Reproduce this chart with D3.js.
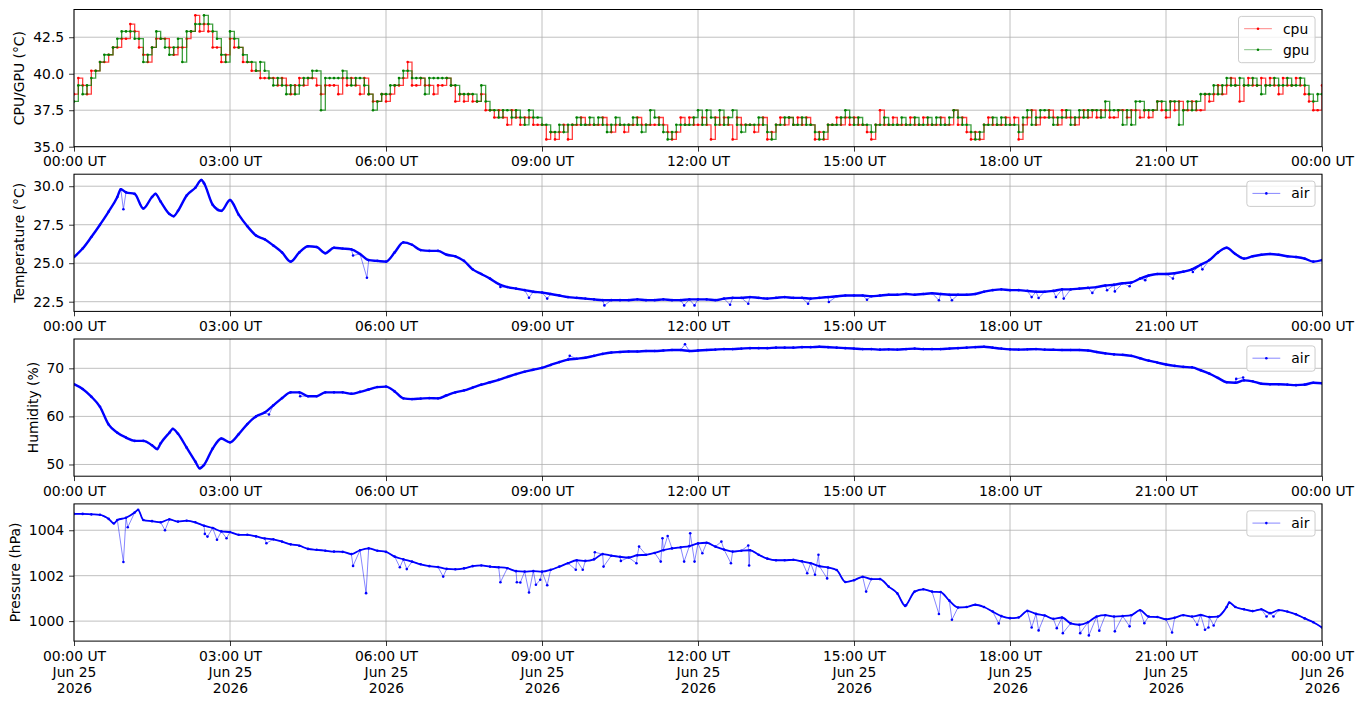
<!DOCTYPE html>
<html>
<head>
<meta charset="utf-8">
<script src="https://cdn.jsdelivr.net/npm/d3@7"></script>
<style>
  body { margin: 0; background: #fff; }
  svg { font-family: "DejaVu Sans", sans-serif; }
</style>
</head>
<body>
<svg id="chart" width="1363" height="707"></svg>
<script>
// one day of readings, 25 Jun 2026 UTC
// cpu / gpu: one reading every 5 minutes, one row per hour
const cpuTemp = [
  38.6, 39.7, 39.2, 38.6, 40.2, 40.2, 40.8, 40.8, 41.3, 41.8, 41.8, 42.4,
  42.4, 43.4, 42.9, 41.8, 41.3, 40.8, 41.8, 42.4, 42.4, 42.4, 41.8, 41.3,
  41.8, 41.8, 42.4, 42.9, 44.0, 42.9, 43.4, 42.9, 41.8, 41.8, 40.8, 41.3,
  42.4, 41.8, 41.8, 40.8, 40.8, 40.2, 40.2, 39.7, 39.7, 39.7, 39.7, 39.2,
  39.7, 39.2, 38.6, 39.2, 39.7, 39.2, 39.7, 39.7, 39.2, 38.6, 39.2, 39.2,
  39.2, 38.6, 39.7, 39.2, 39.7, 39.2, 38.6, 39.7, 38.6, 38.1, 38.1, 38.6,
  38.1, 38.6, 39.2, 39.2, 39.7, 40.8, 39.2, 39.2, 39.7, 39.2, 39.2, 38.6,
  39.2, 39.2, 39.7, 39.2, 38.1, 38.6, 38.1, 38.6, 38.1, 38.1, 38.6, 37.5,
  37.5, 37.0, 37.5, 37.0, 36.5, 37.5, 37.0, 36.5, 37.0, 37.0, 36.5, 36.5,
  36.5, 35.5, 36.0, 35.5, 36.0, 36.5, 35.5, 36.5, 36.5, 37.0, 36.5, 36.5,
  36.5, 36.5, 37.0, 36.5, 36.0, 36.5, 36.5, 36.0, 36.5, 36.5, 37.0, 36.5,
  36.5, 36.5, 36.5, 37.0, 36.5, 36.0, 35.5, 36.0, 37.0, 36.5, 37.0, 36.5,
  36.5, 37.0, 36.5, 35.5, 37.0, 36.5, 37.0, 36.5, 35.5, 37.0, 36.5, 36.5,
  36.5, 36.0, 36.5, 37.0, 35.5, 36.0, 36.5, 37.0, 36.5, 37.0, 36.5, 37.0,
  36.5, 37.0, 36.5, 35.5, 36.0, 35.5, 36.5, 36.5, 37.0, 36.5, 37.0, 36.5,
  37.0, 36.5, 36.5, 36.0, 35.5, 36.5, 37.5, 36.5, 36.5, 37.0, 36.5, 36.5,
  36.5, 37.0, 36.5, 36.5, 37.0, 36.5, 36.5, 36.5, 37.0, 36.5, 36.5, 37.5,
  36.5, 37.0, 36.0, 35.5, 36.0, 35.5, 36.5, 37.0, 36.5, 36.5, 36.5, 37.0,
  36.5, 37.0, 35.5, 36.5, 37.0, 37.5, 36.5, 37.0, 37.0, 37.5, 37.0, 36.5,
  37.5, 37.0, 37.0, 36.5, 37.0, 37.5, 37.0, 37.5, 37.0, 37.5, 37.5, 37.0,
  37.0, 37.5, 37.5, 37.0, 37.5, 37.5, 37.0, 37.5, 37.0, 37.5, 38.1, 37.5,
  37.0, 38.1, 37.5, 38.1, 37.5, 37.5, 38.1, 37.5, 37.5, 38.6, 38.1, 38.6,
  39.2, 38.6, 39.2, 39.7, 39.2, 38.1, 39.2, 39.7, 39.2, 39.2, 39.7, 39.2,
  39.7, 39.2, 38.6, 39.7, 39.2, 39.2, 39.7, 39.2, 38.6, 38.1, 37.5, 37.5,
  39.2
];
const gpuTemp = [
  38.1, 39.2, 38.6, 39.2, 39.7, 40.2, 40.8, 41.3, 41.3, 41.8, 42.4, 42.9,
  42.9, 42.9, 42.4, 42.4, 40.8, 41.3, 41.8, 42.9, 42.4, 41.8, 41.3, 41.8,
  42.4, 40.8, 42.9, 42.9, 43.4, 43.4, 44.0, 43.4, 42.9, 42.4, 41.3, 40.8,
  42.9, 42.4, 41.8, 41.3, 40.8, 40.8, 40.2, 40.8, 40.2, 39.7, 39.2, 39.7,
  39.2, 38.6, 39.2, 38.6, 39.2, 39.7, 39.7, 40.2, 40.2, 37.5, 39.7, 39.7,
  39.7, 39.7, 40.2, 39.7, 39.2, 39.7, 39.7, 39.2, 38.6, 37.5, 38.1, 38.6,
  38.6, 39.2, 39.2, 39.7, 40.2, 40.2, 39.7, 39.7, 39.7, 38.6, 39.7, 39.7,
  39.7, 39.7, 39.7, 39.2, 39.2, 38.6, 38.6, 38.6, 38.6, 38.1, 39.2, 38.1,
  37.5, 37.5, 37.0, 37.5, 37.5, 37.0, 37.5, 37.0, 36.5, 37.5, 37.0, 37.0,
  36.5, 36.5, 36.0, 36.0, 36.5, 36.0, 36.5, 36.5, 37.0, 36.5, 36.5, 37.0,
  36.5, 37.0, 36.5, 36.0, 36.5, 37.0, 36.5, 36.5, 36.5, 37.0, 36.5, 36.0,
  36.5, 37.5, 37.0, 36.5, 36.0, 35.5, 36.0, 36.5, 36.5, 36.5, 36.5, 37.0,
  37.5, 36.5, 37.5, 37.0, 36.5, 37.5, 36.5, 37.0, 37.5, 36.5, 36.0, 36.5,
  36.5, 36.5, 37.0, 36.5, 36.0, 35.5, 36.5, 36.5, 37.0, 37.0, 36.5, 36.5,
  37.0, 36.5, 36.5, 36.0, 35.5, 36.0, 36.5, 36.5, 36.5, 37.0, 37.5, 37.0,
  36.5, 37.0, 36.5, 36.5, 36.0, 36.5, 36.5, 37.0, 36.5, 36.5, 36.5, 37.0,
  36.5, 36.5, 37.0, 36.5, 36.5, 37.0, 36.5, 37.0, 36.5, 36.5, 37.0, 37.5,
  37.0, 36.5, 36.5, 36.0, 35.5, 36.0, 36.5, 36.5, 37.0, 36.5, 37.0, 36.5,
  36.5, 36.5, 36.0, 37.0, 37.5, 36.5, 37.0, 37.5, 37.5, 37.0, 36.5, 37.0,
  37.0, 37.5, 36.5, 37.0, 37.5, 37.0, 37.5, 37.5, 37.5, 37.0, 38.1, 37.5,
  37.5, 37.5, 36.5, 37.5, 36.5, 38.1, 38.1, 37.5, 37.5, 37.5, 38.1, 38.1,
  37.5, 38.1, 38.1, 36.5, 37.5, 38.1, 37.5, 38.1, 38.6, 38.6, 38.6, 39.2,
  38.6, 39.2, 39.7, 39.2, 39.2, 39.7, 39.2, 39.2, 39.7, 39.2, 38.6, 39.2,
  39.2, 39.7, 39.2, 39.2, 39.7, 39.2, 39.2, 39.7, 39.2, 38.6, 38.1, 38.6,
  38.6
];

// air sensor: one reading every 10 minutes, one row per hour
const airTemp = [
  25.4, 25.95, 26.7, 27.5, 28.35, 29.3,
  29.6, 29.5, 28.55, 29.3, 29.0, 28.2,
  28.4, 29.4, 29.9, 30.2, 28.8, 28.4,
  29.1, 28.15, 27.4, 26.8, 26.55, 26.15,
  25.7, 25.1, 25.7, 26.1, 26.05, 25.65,
  26.0, 25.95, 25.9, 25.6, 25.2, 25.15,
  25.1, 25.7, 26.35, 26.2, 25.85, 25.8,
  25.8, 25.55, 25.45, 25.15, 24.6, 24.3,
  24.0, 23.65, 23.45, 23.35, 23.25, 23.15,
  23.1, 23.0, 22.9, 22.8, 22.75, 22.7,
  22.65, 22.6, 22.6, 22.6, 22.6, 22.65,
  22.6, 22.6, 22.65, 22.6, 22.6, 22.65,
  22.65, 22.65, 22.6, 22.7, 22.75, 22.75,
  22.8, 22.75, 22.7, 22.75, 22.8, 22.75,
  22.75, 22.7, 22.75, 22.8, 22.85, 22.9,
  22.9, 22.9, 22.85, 22.9, 22.95, 22.95,
  23.0, 22.95, 23.0, 23.05, 23.0, 22.95,
  22.95, 22.95, 23.0, 23.15, 23.25, 23.3,
  23.25, 23.25, 23.2, 23.15, 23.15, 23.2,
  23.3, 23.3, 23.35, 23.4, 23.45, 23.55,
  23.6, 23.7, 23.75, 24.0, 24.2, 24.3,
  24.3, 24.35, 24.45, 24.6, 24.9, 25.2,
  25.7, 26.0, 25.6, 25.3, 25.45, 25.55,
  25.6, 25.55, 25.45, 25.4, 25.3, 25.1,
  25.2
];
const airHum = [
  66.7, 65.7, 64.1, 62.0, 58.3, 56.6,
  55.6, 54.9, 54.9, 54.0, 54.4, 56.6,
  56.4, 53.5, 50.6, 49.9, 53.3, 55.4,
  54.6, 56.3, 58.4, 60.0, 60.8, 62.3,
  63.8, 65.0, 65.0, 64.2, 64.2, 65.0,
  65.0, 65.0, 64.7, 65.1, 65.6, 66.1,
  66.2, 65.2, 63.75, 63.6, 63.7, 63.8,
  63.75, 64.4, 65.0, 65.4, 66.0, 66.6,
  67.1, 67.6, 68.2, 68.8, 69.3, 69.7,
  70.1, 70.7, 71.3, 71.8, 72.0, 72.2,
  72.6, 73.0, 73.3, 73.4, 73.5, 73.5,
  73.6, 73.6, 73.7, 73.8, 73.8, 73.6,
  73.7, 73.8, 73.9, 74.0, 74.0, 74.1,
  74.2, 74.2, 74.2, 74.3, 74.3, 74.3,
  74.4, 74.4, 74.5, 74.4, 74.3, 74.2,
  74.1, 74.0, 74.0, 73.9, 73.95, 73.9,
  74.0, 74.1, 74.0, 74.0, 74.0, 74.1,
  74.2, 74.3, 74.4, 74.5, 74.3, 74.1,
  73.95, 73.9, 73.95, 74.0, 73.9, 73.85,
  73.8, 73.8, 73.8, 73.7, 73.4, 73.1,
  72.9, 72.8, 72.6, 72.1, 71.6, 71.2,
  70.8, 70.5, 70.3, 70.2, 69.6, 68.9,
  68.0, 67.1, 67.0, 67.5, 67.3, 66.8,
  66.7, 66.7, 66.6, 66.5, 66.6, 67.0,
  66.9
];
const airPres = [
  1004.72, 1004.72, 1004.7, 1004.68, 1004.5, 1004.45,
  1004.55, 1004.78, 1004.45, 1004.4, 1004.35, 1004.48,
  1004.38, 1004.42, 1004.35, 1004.2, 1004.1, 1003.95,
  1003.92, 1003.8, 1003.8, 1003.73, 1003.64, 1003.6,
  1003.5, 1003.38, 1003.32, 1003.18, 1003.14, 1003.1,
  1003.06, 1003.05, 1002.95, 1003.12, 1003.2, 1003.1,
  1003.05, 1002.84, 1002.72, 1002.62, 1002.5, 1002.42,
  1002.38, 1002.3, 1002.28, 1002.32, 1002.42, 1002.45,
  1002.4, 1002.37, 1002.33, 1002.2, 1002.18, 1002.2,
  1002.18, 1002.26, 1002.4, 1002.55, 1002.68, 1002.65,
  1002.72, 1002.95, 1002.88, 1002.83, 1002.8, 1002.9,
  1002.92, 1003.0, 1003.12, 1003.2, 1003.25, 1003.3,
  1003.42, 1003.45, 1003.28, 1003.15, 1003.06, 1003.1,
  1003.12, 1002.92, 1002.75, 1002.68, 1002.68, 1002.7,
  1002.63, 1002.55, 1002.42, 1002.36, 1002.25, 1001.72,
  1001.8, 1001.95, 1001.85, 1001.85, 1001.52, 1001.22,
  1000.7, 1001.3, 1001.4, 1001.3, 1001.28, 1000.9,
  1000.6, 1000.62, 1000.72, 1000.62, 1000.42, 1000.22,
  1000.13, 1000.16, 1000.45, 1000.32, 1000.25, 1000.1,
  1000.16, 999.9, 999.84, 999.95, 1000.2, 1000.26,
  1000.2, 1000.22, 1000.26, 1000.48, 1000.2, 1000.18,
  1000.08, 1000.15, 1000.26, 1000.2, 1000.27, 1000.18,
  1000.2, 1000.62, 1000.62, 1000.52, 1000.44, 1000.52,
  1000.35, 1000.48, 1000.42, 1000.3, 1000.12, 999.95,
  999.72
];

// readings between the 10 minute steps: [minute of day, value]
// peaks are on the curve, spikes are single odd readings
const tempPeaks = [[54, 29.8], [94, 29.5], [115, 28.05], [147, 30.4]];
const tempSpikes = [
  [57, 28.5], [322, 25.5], [338, 24.06], [492, 23.45], [525, 22.76], [546, 22.7],
  [612, 22.26], [704, 22.26], [716, 22.26], [757, 22.3], [778, 22.37], [847, 22.37],
  [871, 22.48], [915, 22.63], [998, 22.59], [1013, 22.59], [1105, 22.8], [1113, 22.74],
  [1133, 22.8], [1142, 22.7], [1175, 23.07], [1192, 23.24], [1201, 23.17], [1218, 23.5],
  [1236, 23.9], [1268, 24.0], [1291, 24.43], [1302, 24.6]
];
const humPeaks = [[96, 53.2], [114, 57.4], [145, 49.2]];
const humSpikes = [[225, 60.4], [261, 64.2], [572, 72.6], [705, 75.0], [1341, 67.8], [1349, 68.1]];
const presPeaks = [[46, 1004.3], [74, 1004.9], [959, 1000.67], [1333, 1000.82]];
const presSpikes = [
  [57, 1002.6], [62, 1004.13], [105, 1004.0], [151, 1003.84], [154, 1003.72], [165, 1003.58],
  [176, 1003.65], [222, 1003.43], [322, 1002.43], [337, 1001.23], [376, 1002.37], [384, 1002.29],
  [426, 1001.96], [492, 1001.71], [511, 1001.71], [515, 1001.7], [525, 1001.26], [533, 1001.6],
  [538, 1001.82], [546, 1001.58], [579, 1002.26], [587, 1002.26], [601, 1003.03], [611, 1002.4],
  [631, 1002.65], [649, 1002.55], [652, 1003.28], [677, 1002.62], [679, 1003.65], [685, 1003.75],
  [704, 1002.62], [711, 1003.87], [716, 1002.62], [725, 1002.99], [747, 1003.5], [758, 1002.55],
  [778, 1003.33], [779, 1002.45], [846, 1002.11], [855, 1002.04], [859, 1002.92], [869, 1001.88],
  [914, 1001.3], [998, 1000.31], [1013, 1000.06], [1067, 999.9], [1105, 999.72], [1113, 999.59],
  [1134, 999.69], [1141, 999.47], [1161, 999.47], [1171, 999.37], [1183, 999.58], [1201, 999.55],
  [1218, 999.77], [1235, 999.91], [1267, 999.5], [1296, 999.84], [1305, 999.62], [1309, 999.72],
  [1315, 999.81], [1376, 1000.2], [1384, 1000.2]
];

// axis limits and tick labels
const cpuRange = [35.0, 44.4];
const tempRange = [21.87, 30.78];
const humRange = [47.56, 76.1];
const presRange = [999.12, 1005.16];
const cpuTicks = [35.0, 37.5, 40.0, 42.5];
const tempTicks = [22.5, 25.0, 27.5, 30.0];
const humTicks = [50, 60, 70];
const presTicks = [1000, 1002, 1004];

const svg = d3.select("#chart");
const left = 74, right = 1322, panelH = 137.2;
const panelTops = [9.5, 174.2, 339, 503.9];
const fontSize = 13.9;
const tickLen = 4.9;

const t0 = Date.UTC(2026, 5, 25);
const atMinute = m => new Date(t0 + m * 60000);
const x = d3.scaleUtc()
  .domain([atMinute(0), atMinute(1440)])
  .range([left, right]);
const hourTicks = x.ticks(d3.utcHour.every(3));

function gridSeries(values, stepMin) {
  return values.map(function(v, i) {
    return { t: atMinute(i * stepMin), v: v };
  });
}
function extraSeries(pairs) {
  return pairs.map(function(p) {
    return { t: atMinute(p[0]), v: p[1] };
  });
}
function merge(a, b) {
  return a.concat(b).sort(function(p, q) { return p.t - q.t; });
}

const tempBand = merge(gridSeries(airTemp, 10), extraSeries(tempPeaks));
const humBand = merge(gridSeries(airHum, 10), extraSeries(humPeaks));
const presBand = merge(gridSeries(airPres, 10), extraSeries(presPeaks));

// the sensor readings are quantised, so cpu/gpu are drawn as steps
const panels = [
  { label: "CPU/GPU (°C)", domain: cpuRange, ticks: cpuTicks, fmt: d3.format(".1f"),
    series: [
      { name: "cpu", color: "#ff0000", band: null, step: true, points: gridSeries(cpuTemp, 5) },
      { name: "gpu", color: "#008000", band: null, step: true, points: gridSeries(gpuTemp, 5) }
    ] },
  { label: "Temperature (°C)", domain: tempRange, ticks: tempTicks, fmt: d3.format(".1f"),
    series: [
      { name: "air", color: "#0000ff", band: tempBand, bandW: 2.4,
        points: merge(tempBand, extraSeries(tempSpikes)) }
    ] },
  { label: "Humidity (%)", domain: humRange, ticks: humTicks, fmt: d3.format("d"),
    series: [
      { name: "air", color: "#0000ff", band: humBand, bandW: 2.4,
        points: merge(humBand, extraSeries(humSpikes)) }
    ] },
  { label: "Pressure (hPa)", domain: presRange, ticks: presTicks, fmt: d3.format("d"),
    series: [
      { name: "air", color: "#0000ff", band: presBand, bandW: 1.8,
        points: merge(presBand, extraSeries(presSpikes)) }
    ] }
];

const hourFmt = d3.utcFormat("%H:%M UT");
const dayFmt = d3.utcFormat("%b %d");
const yearFmt = d3.utcFormat("%Y");

panels.forEach(function(p, k) {
  const top = panelTops[k];
  const bottom = top + panelH;
  const y = d3.scaleLinear().domain(p.domain).range([bottom, top]);
  const g = svg.append("g");

  svg.append("clipPath").attr("id", "clip" + k)
    .append("rect")
    .attr("x", left).attr("y", top)
    .attr("width", right - left).attr("height", panelH);

  // grid
  g.append("g").selectAll("line").data(hourTicks).join("line")
    .attr("x1", d => x(d)).attr("x2", d => x(d))
    .attr("y1", top).attr("y2", bottom)
    .attr("stroke", "#b0b0b0").attr("stroke-width", 0.8);
  g.append("g").selectAll("line").data(p.ticks).join("line")
    .attr("x1", left).attr("x2", right)
    .attr("y1", d => y(d)).attr("y2", d => y(d))
    .attr("stroke", "#b0b0b0").attr("stroke-width", 0.8);

  // data
  const plot = g.append("g").attr("clip-path", "url(#clip" + k + ")");
  p.series.forEach(function(s) {
    if (s.band) {
      const bandLine = d3.line().x(d => x(d.t)).y(d => y(d.v)).curve(d3.curveMonotoneX);
      plot.append("path")
        .attr("d", bandLine(s.band))
        .attr("fill", "none")
        .attr("stroke", s.color)
        .attr("stroke-width", s.bandW)
        .attr("stroke-linejoin", "round");
    }
    const line = d3.line().x(d => x(d.t)).y(d => y(d.v))
      .curve(s.step ? d3.curveStepAfter : d3.curveLinear);
    plot.append("path")
      .attr("d", line(s.points))
      .attr("fill", "none")
      .attr("stroke", s.color)
      .attr("stroke-width", s.step ? 1.3 : 0.8)
      .attr("stroke-opacity", s.step ? 0.75 : 0.6);
    plot.append("g").selectAll("circle").data(s.points).join("circle")
      .attr("cx", d => x(d.t))
      .attr("cy", d => y(d.v))
      .attr("r", 1.3)
      .attr("fill", s.color);
  });

  // frame
  g.append("rect")
    .attr("x", left).attr("y", top)
    .attr("width", right - left).attr("height", panelH)
    .attr("fill", "none").attr("stroke", "#000").attr("stroke-width", 1);

  // axes
  const ya = g.append("g")
    .attr("transform", "translate(" + left + ",0)")
    .call(d3.axisLeft(y).tickValues(p.ticks).tickFormat(p.fmt).tickSize(tickLen).tickPadding(tickLen));
  const xa = g.append("g")
    .attr("transform", "translate(0," + bottom + ")")
    .call(d3.axisBottom(x).tickValues(hourTicks).tickFormat(hourFmt).tickSize(tickLen).tickPadding(tickLen));
  [ya, xa].forEach(function(a) {
    a.select(".domain").remove();
    a.attr("font-size", fontSize).attr("font-family", "DejaVu Sans").attr("fill", "#000");
    a.selectAll(".tick line").attr("stroke", "#000").attr("stroke-width", 0.8);
    a.selectAll(".tick text").attr("fill", "#000");
  });

  if (k === panels.length - 1) {
    xa.selectAll(".tick text").each(function(d) {
      const t = d3.select(this).text(null).attr("dy", null);
      [hourFmt(d), dayFmt(d), yearFmt(d)].forEach(function(s, i) {
        t.append("tspan")
          .attr("x", 0)
          .attr("dy", i === 0 ? "0.71em" : "1.17em")
          .text(s);
      });
    });
  }

  // y label, left of the tick labels
  let tickLeft = left;
  ya.selectAll(".tick text").each(function() {
    const b = this.getBBox();
    const tr = this.parentNode.transform.baseVal.consolidate();
    const ox = tr ? tr.matrix.e : 0;
    tickLeft = Math.min(tickLeft, left + ox + b.x);
  });
  const lx = tickLeft - 9;
  const ly = (top + bottom) / 2;
  g.append("text")
    .attr("transform", "translate(" + lx + "," + ly + ") rotate(-90)")
    .attr("text-anchor", "middle")
    .attr("font-size", fontSize)
    .text(p.label);

  // legend, upper right
  const lg = g.append("g");
  const box = lg.append("rect");
  let textW = 0;
  const rowY = (i) => top + 6.9 + 12.3 + i * 21;
  const items = p.series.map(function(s, i) {
    const txt = lg.append("text")
      .attr("y", rowY(i))
      .attr("dy", "0.36em")
      .attr("font-size", fontSize)
      .text(s.name);
    textW = Math.max(textW, txt.node().getComputedTextLength());
    return txt;
  });
  const boxW = 5.6 + 27.8 + 11.1 + textW + 5.6;
  const boxX = right - 6.95 - boxW;
  const boxH = 25.3 + 21 * (p.series.length - 1);
  box.attr("x", boxX).attr("y", top + 6.9)
    .attr("width", boxW).attr("height", boxH)
    .attr("rx", 2.8)
    .attr("fill", "#fff").attr("fill-opacity", 0.8)
    .attr("stroke", "#cccccc").attr("stroke-width", 1);
  p.series.forEach(function(s, i) {
    const hx = boxX + 5.6;
    lg.append("line")
      .attr("x1", hx).attr("x2", hx + 27.8)
      .attr("y1", rowY(i)).attr("y2", rowY(i))
      .attr("stroke", s.color).attr("stroke-width", 0.8).attr("stroke-opacity", 0.6);
    lg.append("circle")
      .attr("cx", hx + 13.9).attr("cy", rowY(i))
      .attr("r", 1.3).attr("fill", s.color);
    items[i].attr("x", hx + 27.8 + 11.1);
  });
});
</script>
</body>
</html>
